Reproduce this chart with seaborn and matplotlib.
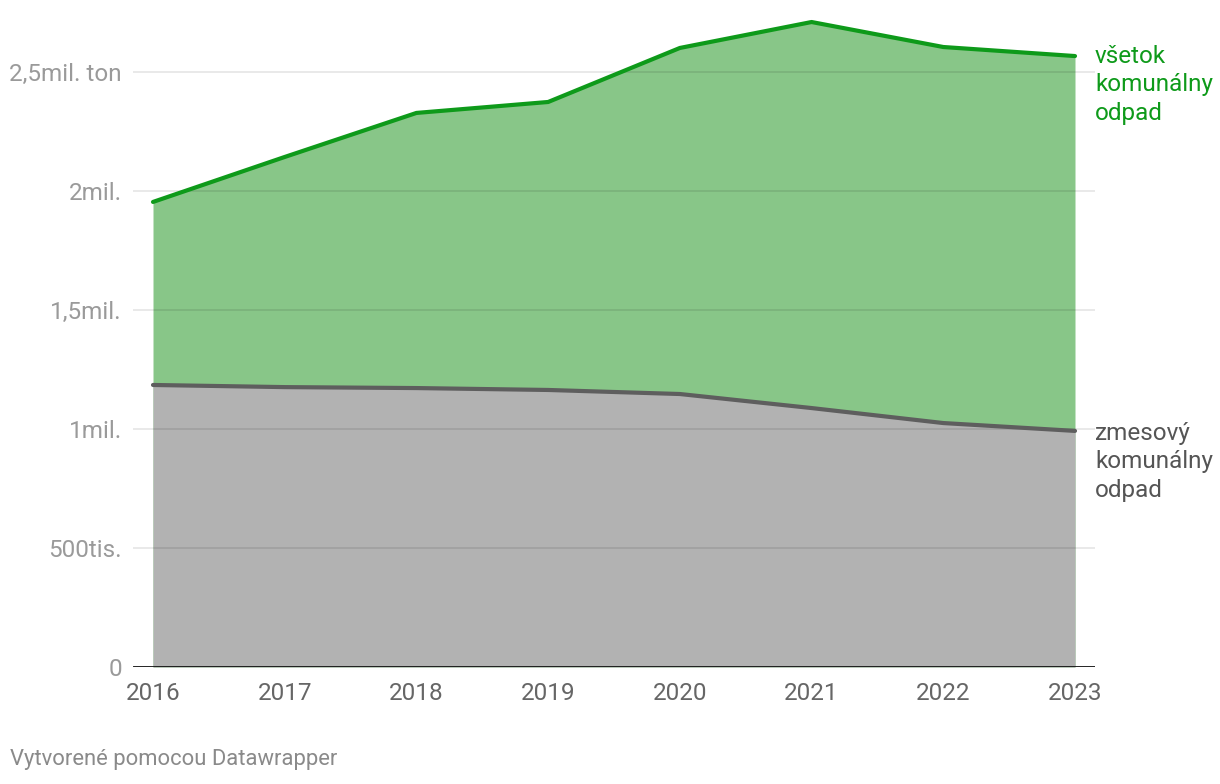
import matplotlib
matplotlib.use("Agg")
import matplotlib.pyplot as plt
import seaborn as sns
import pandas as pd

years = [2016, 2017, 2018, 2019, 2020, 2021, 2022, 2023]
total_waste = [1.954, 2.143, 2.328, 2.374, 2.601, 2.710, 2.605, 2.567]   # mil. ton
mixed_waste = [1.185, 1.176, 1.172, 1.164, 1.147, 1.088, 1.025, 0.992]   # mil. ton
y_ticks = [0, 0.5, 1.0, 1.5, 2.0, 2.5]
y_tick_labels = ["0", "500tis.", "1mil.", "1,5mil.", "2mil.", "2,5mil. ton"]
label_total = "všetok\nkomunálny\nodpad"
label_mixed = "zmesový\nkomunálny\nodpad"
credit = "Vytvorené pomocou Datawrapper"

sns.set_theme(style="white")
plt.rcParams["font.family"] = ["Roboto", "DejaVu Sans"]

df = pd.DataFrame({"year": years, "total": total_waste, "mixed": mixed_waste})

fig = plt.figure(figsize=(12.2, 7.84), dpi=100)
ax = fig.add_axes([133 / 1220, 1 - 667 / 784, (1095 - 133) / 1220, (667 - 10) / 784])

green_fill = "#88c688"
green_line = "#0e9a1a"
gray_fill = "#b2b2b2"
gray_line = "#5e5e5e"

ax.fill_between(df["year"], 0, df["total"], color=green_fill, linewidth=0, zorder=1)
ax.fill_between(df["year"], 0, df["mixed"], color=gray_fill, linewidth=0, zorder=2)

for yv in y_ticks[1:]:
    ax.axhline(yv, color="black", alpha=0.1, linewidth=1.2, zorder=3)

sns.lineplot(data=df, x="year", y="total", color=green_line, linewidth=3, ax=ax, zorder=4)
sns.lineplot(data=df, x="year", y="mixed", color=gray_line, linewidth=3, ax=ax, zorder=4)

ax.axhline(0, color="#111111", linewidth=2, zorder=5)

x0, x1 = years[0], years[-1]
pad = 20 / ((1075 - 153) / 7)
ax.set_xlim(x0 - pad, x1 + pad)
ax.set_ylim(0, (667 - 10) / 238)

for s in ax.spines.values():
    s.set_visible(False)

ax.set_xticks(years)
ax.set_xticklabels([str(y) for y in years], fontsize=17.5, color="#666666")
ax.set_yticks(y_ticks)
ax.set_yticklabels(y_tick_labels, fontsize=17.5, color="#9a9a9a")
ax.tick_params(axis="both", length=0)
ax.tick_params(axis="y", pad=8)
ax.tick_params(axis="x", pad=11)
ax.set_xlabel("")
ax.set_ylabel("")

ax.text(1.0, 2.614, label_total, transform=ax.get_yaxis_transform(),
        ha="left", va="top", fontsize=17.5, color="#0e9a1a", linespacing=1.3, clip_on=False)
ax.text(1.0, 1.03, label_mixed, transform=ax.get_yaxis_transform(),
        ha="left", va="top", fontsize=17.5, color="#555555", linespacing=1.3, clip_on=False)

fig.text(10 / 1220, 1 - 760 / 784, credit, fontsize=15.8, color="#8a8a8a", ha="left", va="center")

fig.savefig("out.png", dpi=100)
